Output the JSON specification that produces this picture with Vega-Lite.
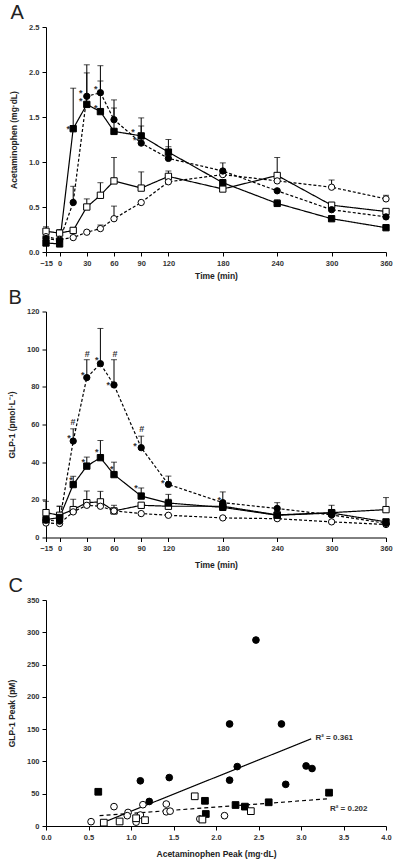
{
  "$schema": "https://vega.github.io/schema/vega-lite/v6.json",
  "background": "white",
  "padding": {"left": 7, "top": 3, "right": 10, "bottom": 3},
  "spacing": 7.5,
  "config": {
    "font": "Liberation Sans",
    "view": {"stroke": null},
    "axis": {
      "grid": false,
      "domainColor": "black",
      "tickColor": "black",
      "tickSize": 4,
      "labelPadding": 3,
      "labelOverlap": false,
      "labelFlush": false,
      "labelFont": "Liberation Sans",
      "labelFontSize": 7.5,
      "labelFontWeight": "bold",
      "labelColor": "#333333",
      "titleFont": "Liberation Sans",
      "titleFontSize": 8.5,
      "titleFontWeight": "bold",
      "titleColor": "#222222"
    },
    "axisY": {"titlePadding": 10},
    "title": {"font": "Liberation Sans", "fontSize": 20, "fontWeight": "normal", "anchor": "start", "color": "#222222"}
  },
  "datasets": {
    "acet": [
      {"t": -15, "g": "Solid Pre", "v": 0.23, "e": 0.28},
      {"t": 0, "g": "Solid Pre", "v": 0.21, "e": 0.25},
      {"t": 15, "g": "Solid Pre", "v": 0.24, "e": 0.27},
      {"t": 30, "g": "Solid Pre", "v": 0.50, "e": 0.59},
      {"t": 45, "g": "Solid Pre", "v": 0.63, "e": 0.77},
      {"t": 60, "g": "Solid Pre", "v": 0.79, "e": 1.05},
      {"t": 90, "g": "Solid Pre", "v": 0.71, "e": 0.89},
      {"t": 120, "g": "Solid Pre", "v": 0.84, "e": 0.90},
      {"t": 180, "g": "Solid Pre", "v": 0.70, "e": null},
      {"t": 240, "g": "Solid Pre", "v": 0.85, "e": 1.05},
      {"t": 300, "g": "Solid Pre", "v": 0.52, "e": null},
      {"t": 360, "g": "Solid Pre", "v": 0.45, "e": null},
      {"t": -15, "g": "Liquid Pre", "v": 0.17, "e": null},
      {"t": 0, "g": "Liquid Pre", "v": 0.14, "e": null},
      {"t": 15, "g": "Liquid Pre", "v": 0.16, "e": null},
      {"t": 30, "g": "Liquid Pre", "v": 0.22, "e": null},
      {"t": 45, "g": "Liquid Pre", "v": 0.26, "e": 0.30},
      {"t": 60, "g": "Liquid Pre", "v": 0.37, "e": 0.51},
      {"t": 90, "g": "Liquid Pre", "v": 0.55, "e": null},
      {"t": 120, "g": "Liquid Pre", "v": 0.78, "e": null},
      {"t": 180, "g": "Liquid Pre", "v": 0.86, "e": null},
      {"t": 240, "g": "Liquid Pre", "v": 0.79, "e": null},
      {"t": 300, "g": "Liquid Pre", "v": 0.72, "e": 0.80},
      {"t": 360, "g": "Liquid Pre", "v": 0.59, "e": 0.63},
      {"t": -15, "g": "Solid Post", "v": 0.10, "e": null},
      {"t": 0, "g": "Solid Post", "v": 0.09, "e": null},
      {"t": 15, "g": "Solid Post", "v": 1.37, "e": 1.82},
      {"t": 30, "g": "Solid Post", "v": 1.64, "e": 1.99},
      {"t": 45, "g": "Solid Post", "v": 1.56, "e": 1.90},
      {"t": 60, "g": "Solid Post", "v": 1.34, "e": 1.60},
      {"t": 90, "g": "Solid Post", "v": 1.29, "e": 1.49},
      {"t": 120, "g": "Solid Post", "v": 1.11, "e": 1.25},
      {"t": 180, "g": "Solid Post", "v": 0.77, "e": null},
      {"t": 240, "g": "Solid Post", "v": 0.54, "e": 0.58},
      {"t": 300, "g": "Solid Post", "v": 0.37, "e": null},
      {"t": 360, "g": "Solid Post", "v": 0.27, "e": null},
      {"t": -15, "g": "Liquid Post", "v": 0.15, "e": null},
      {"t": 0, "g": "Liquid Post", "v": 0.13, "e": null},
      {"t": 15, "g": "Liquid Post", "v": 0.55, "e": 0.73},
      {"t": 30, "g": "Liquid Post", "v": 1.73, "e": 2.08},
      {"t": 45, "g": "Liquid Post", "v": 1.77, "e": 2.07},
      {"t": 60, "g": "Liquid Post", "v": 1.47, "e": 1.69},
      {"t": 90, "g": "Liquid Post", "v": 1.21, "e": 1.40},
      {"t": 120, "g": "Liquid Post", "v": 1.04, "e": 1.17},
      {"t": 180, "g": "Liquid Post", "v": 0.90, "e": 0.99},
      {"t": 240, "g": "Liquid Post", "v": 0.68, "e": null},
      {"t": 300, "g": "Liquid Post", "v": 0.47, "e": null},
      {"t": 360, "g": "Liquid Post", "v": 0.39, "e": null}
    ],
    "acetNotes": [
      {"t": 9.6, "v": 1.39, "label": "*"},
      {"t": 23.3, "v": 1.79, "label": "*"},
      {"t": 23.3, "v": 1.70, "label": "*"},
      {"t": 39.8, "v": 1.83, "label": "*"},
      {"t": 39.8, "v": 1.62, "label": "*"},
      {"t": 81, "v": 1.36, "label": "*"},
      {"t": 83, "v": 1.27, "label": "*"}
    ],
    "glp": [
      {"t": -15, "g": "Solid Pre", "v": 13.2, "e": 19.2},
      {"t": 0, "g": "Solid Pre", "v": 11.8, "e": 16.6},
      {"t": 15, "g": "Solid Pre", "v": 14.8, "e": 20.3},
      {"t": 30, "g": "Solid Pre", "v": 18.5, "e": 24.7},
      {"t": 45, "g": "Solid Pre", "v": 18.9, "e": 24.5},
      {"t": 60, "g": "Solid Pre", "v": 14.1, "e": 17.1},
      {"t": 90, "g": "Solid Pre", "v": 17.1, "e": null},
      {"t": 120, "g": "Solid Pre", "v": 16.6, "e": 20.3},
      {"t": 180, "g": "Solid Pre", "v": 16.6, "e": 24.2},
      {"t": 240, "g": "Solid Pre", "v": 12.0, "e": null},
      {"t": 300, "g": "Solid Pre", "v": 13.2, "e": 17.1},
      {"t": 360, "g": "Solid Pre", "v": 14.8, "e": 21.2},
      {"t": -15, "g": "Liquid Pre", "v": 7.7, "e": null},
      {"t": 0, "g": "Liquid Pre", "v": 7.4, "e": null},
      {"t": 15, "g": "Liquid Pre", "v": 13.6, "e": null},
      {"t": 30, "g": "Liquid Pre", "v": 17.1, "e": null},
      {"t": 45, "g": "Liquid Pre", "v": 16.6, "e": null},
      {"t": 60, "g": "Liquid Pre", "v": 14.1, "e": null},
      {"t": 90, "g": "Liquid Pre", "v": 12.7, "e": null},
      {"t": 120, "g": "Liquid Pre", "v": 11.8, "e": null},
      {"t": 180, "g": "Liquid Pre", "v": 10.4, "e": null},
      {"t": 240, "g": "Liquid Pre", "v": 10.0, "e": null},
      {"t": 300, "g": "Liquid Pre", "v": 8.3, "e": null},
      {"t": 360, "g": "Liquid Pre", "v": 6.9, "e": null},
      {"t": -15, "g": "Solid Post", "v": 9.5, "e": null},
      {"t": 0, "g": "Solid Post", "v": 10.6, "e": 16.6},
      {"t": 15, "g": "Solid Post", "v": 28.1, "e": 32.5},
      {"t": 30, "g": "Solid Post", "v": 37.9, "e": 42.7},
      {"t": 45, "g": "Solid Post", "v": 42.4, "e": 51.5},
      {"t": 60, "g": "Solid Post", "v": 33.4, "e": 40.0},
      {"t": 90, "g": "Solid Post", "v": 22.0, "e": 26.3},
      {"t": 120, "g": "Solid Post", "v": 18.3, "e": 22.9},
      {"t": 180, "g": "Solid Post", "v": 16.0, "e": null},
      {"t": 240, "g": "Solid Post", "v": 11.8, "e": null},
      {"t": 300, "g": "Solid Post", "v": 13.0, "e": null},
      {"t": 360, "g": "Solid Post", "v": 8.3, "e": null},
      {"t": -15, "g": "Liquid Post", "v": 9.2, "e": null},
      {"t": 0, "g": "Liquid Post", "v": 8.7, "e": null},
      {"t": 15, "g": "Liquid Post", "v": 51.2, "e": 57.7},
      {"t": 30, "g": "Liquid Post", "v": 84.9, "e": 94.4},
      {"t": 45, "g": "Liquid Post", "v": 92.3, "e": 111.0},
      {"t": 60, "g": "Liquid Post", "v": 81.0, "e": 94.4},
      {"t": 90, "g": "Liquid Post", "v": 47.7, "e": 53.8},
      {"t": 120, "g": "Liquid Post", "v": 28.2, "e": 32.6},
      {"t": 180, "g": "Liquid Post", "v": 18.5, "e": null},
      {"t": 240, "g": "Liquid Post", "v": 15.4, "e": 18.5},
      {"t": 300, "g": "Liquid Post", "v": 12.0, "e": null},
      {"t": 360, "g": "Liquid Post", "v": 7.5, "e": null}
    ],
    "glpNotes": [
      {"t": 30.5, "v": 98.3, "label": "#"},
      {"t": 25.5, "v": 87.4, "label": "*"},
      {"t": 40.9, "v": 95.1, "label": "*"},
      {"t": 61.1, "v": 98.3, "label": "#"},
      {"t": 53.7, "v": 82.1, "label": "*"},
      {"t": 14.8, "v": 62.3, "label": "#"},
      {"t": 90.5, "v": 58.6, "label": "#"},
      {"t": 10.4, "v": 53.7, "label": "*"},
      {"t": 83.2, "v": 49.8, "label": "*"},
      {"t": 113.7, "v": 29.8, "label": "*"},
      {"t": 12.6, "v": 31.8, "label": "*"},
      {"t": 26.1, "v": 41.3, "label": "*"},
      {"t": 40.9, "v": 46.2, "label": "*"},
      {"t": 57.5, "v": 37.4, "label": "*"},
      {"t": 84.3, "v": 27.2, "label": "*"},
      {"t": 176, "v": 21.2, "label": "*"}
    ],
    "legendItems": [
      {"g": "Solid Pre"},
      {"g": "Liquid Pre"},
      {"g": "Solid Post"},
      {"g": "Liquid Post"}
    ],
    "peaks": [
      {"x": 1.11, "y": 70, "g": "Liquid Post"},
      {"x": 1.45, "y": 75, "g": "Liquid Post"},
      {"x": 1.215, "y": 38, "g": "Liquid Post"},
      {"x": 2.16, "y": 158, "g": "Liquid Post"},
      {"x": 2.77, "y": 158, "g": "Liquid Post"},
      {"x": 2.25, "y": 92, "g": "Liquid Post"},
      {"x": 2.16, "y": 71, "g": "Liquid Post"},
      {"x": 3.06, "y": 93, "g": "Liquid Post"},
      {"x": 3.13, "y": 89, "g": "Liquid Post"},
      {"x": 2.82, "y": 64.5, "g": "Liquid Post"},
      {"x": 2.47, "y": 288, "g": "Liquid Post"},
      {"x": 0.615, "y": 53, "g": "Solid Post"},
      {"x": 1.87, "y": 39, "g": "Solid Post"},
      {"x": 1.88, "y": 18.6, "g": "Solid Post"},
      {"x": 2.23, "y": 32.5, "g": "Solid Post"},
      {"x": 2.34, "y": 30, "g": "Solid Post"},
      {"x": 2.62, "y": 36.7, "g": "Solid Post"},
      {"x": 3.33, "y": 51.6, "g": "Solid Post"},
      {"x": 0.53, "y": 6.7, "g": "Liquid Pre"},
      {"x": 0.80, "y": 30, "g": "Liquid Pre"},
      {"x": 0.965, "y": 21, "g": "Liquid Pre"},
      {"x": 0.956, "y": 16, "g": "Liquid Pre"},
      {"x": 1.06, "y": 6, "g": "Liquid Pre"},
      {"x": 1.11, "y": 17, "g": "Liquid Pre"},
      {"x": 1.14, "y": 33, "g": "Liquid Pre"},
      {"x": 1.415, "y": 34, "g": "Liquid Pre"},
      {"x": 1.415, "y": 22, "g": "Liquid Pre"},
      {"x": 1.46, "y": 23, "g": "Liquid Pre"},
      {"x": 1.81, "y": 11, "g": "Liquid Pre"},
      {"x": 2.10, "y": 16, "g": "Liquid Pre"},
      {"x": 0.68, "y": 5.2, "g": "Solid Pre"},
      {"x": 0.866, "y": 7, "g": "Solid Pre"},
      {"x": 1.06, "y": 12, "g": "Solid Pre"},
      {"x": 1.165, "y": 9, "g": "Solid Pre"},
      {"x": 1.75, "y": 46, "g": "Solid Pre"},
      {"x": 2.41, "y": 23, "g": "Solid Pre"},
      {"x": 1.84, "y": 10, "g": "Solid Pre"}
    ],
    "fits": [
      {"x": 0.72, "y": 8, "g": "Liquid Post"},
      {"x": 3.12, "y": 135, "g": "Liquid Post"},
      {"x": 0.63, "y": 16, "g": "Solid Post"},
      {"x": 3.31, "y": 42, "g": "Solid Post"}
    ],
    "r2": [
      {"x": 3.17, "y": 137, "label": "R² = 0.361"},
      {"x": 3.34, "y": 26, "label": "R² = 0.202"}
    ]
  },
  "vconcat": [
    {
      "width": 340,
      "height": 225,
      "title": {"text": "A", "dx": 1, "offset": 0},
      "data": {"name": "acet"},
      "encoding": {
        "x": {"field": "t", "type": "quantitative", "title": "Time (min)",
          "scale": {"domain": [-15, 360], "nice": false, "zero": false},
          "axis": {"values": [-15, 0, 30, 60, 90, 120, 180, 240, 300, 360], "labelOverlap": false, "labelFlush": false, "labelSeparation": -20, "titlePadding": 5}},
        "y": {"field": "v", "type": "quantitative", "title": "Acetaminophen (mg·dL)",
          "scale": {"domain": [0, 2.5], "nice": false},
          "axis": {"values": [0, 0.5, 1, 1.5, 2, 2.5], "format": ".1f", "labelOverlap": false, "labelFlush": false}}
      },
      "layer": [
        {
          "transform": [{"filter": "datum.e != null"}],
          "mark": {"type": "rule", "color": "black", "strokeWidth": 1},
          "encoding": {"y2": {"field": "e"}}
        },
        {
          "transform": [{"filter": "datum.e != null"}],
          "mark": {"type": "tick", "orient": "horizontal", "color": "black", "size": 6, "thickness": 1},
          "encoding": {"y": {"field": "e", "type": "quantitative"}}
        },
        {
          "mark": {"type": "line", "color": "black", "strokeWidth": 1.2},
          "encoding": {
            "detail": {"field": "g"},
            "strokeDash": {"field": "g", "type": "nominal", "legend": null,
              "scale": {"domain": ["Solid Pre", "Liquid Pre", "Solid Post", "Liquid Post"], "range": [[1, 0], [3, 2], [1, 0], [3, 2]]}}
          }
        },
        {
          "mark": {"type": "point", "filled": true, "stroke": "black", "strokeWidth": 1, "opacity": 1, "size": 40},
          "encoding": {
            "shape": {"field": "g", "type": "nominal", "legend": null,
              "scale": {"domain": ["Solid Pre", "Liquid Pre", "Solid Post", "Liquid Post"], "range": ["square", "circle", "square", "circle"]}},
            "fill": {"field": "g", "type": "nominal", "legend": null,
              "scale": {"domain": ["Solid Pre", "Liquid Pre", "Solid Post", "Liquid Post"], "range": ["white", "white", "black", "black"]}}
          }
        },
        {
          "data": {"name": "acetNotes"},
          "mark": {"type": "text", "fontSize": 9, "fontWeight": "bold", "color": "#333333", "baseline": "middle", "dy": 2},
          "encoding": {"text": {"field": "label"}}
        }
      ]
    },
    {
      "width": 340,
      "height": 226,
      "title": {"text": "B", "dx": 1, "offset": 0},
      "data": {"name": "glp"},
      "encoding": {
        "x": {"field": "t", "type": "quantitative", "title": "Time (min)",
          "scale": {"domain": [-15, 360], "nice": false, "zero": false},
          "axis": {"values": [-15, 0, 30, 60, 90, 120, 180, 240, 300, 360], "labelOverlap": false, "labelFlush": false, "labelSeparation": -20, "titlePadding": 8}},
        "y": {"field": "v", "type": "quantitative", "title": "GLP-1 (pmol·L⁻¹)",
          "scale": {"domain": [0, 120], "nice": false},
          "axis": {"values": [0, 20, 40, 60, 80, 100, 120], "labelOverlap": false, "labelFlush": false}}
      },
      "layer": [
        {
          "transform": [{"filter": "datum.e != null"}],
          "mark": {"type": "rule", "color": "black", "strokeWidth": 1},
          "encoding": {"y2": {"field": "e"}}
        },
        {
          "transform": [{"filter": "datum.e != null"}],
          "mark": {"type": "tick", "orient": "horizontal", "color": "black", "size": 6, "thickness": 1},
          "encoding": {"y": {"field": "e", "type": "quantitative"}}
        },
        {
          "mark": {"type": "line", "color": "black", "strokeWidth": 1.2},
          "encoding": {
            "detail": {"field": "g"},
            "strokeDash": {"field": "g", "type": "nominal", "legend": null,
              "scale": {"domain": ["Solid Pre", "Liquid Pre", "Solid Post", "Liquid Post"], "range": [[1, 0], [3, 2], [1, 0], [3, 2]]}}
          }
        },
        {
          "mark": {"type": "point", "filled": true, "stroke": "black", "strokeWidth": 1, "opacity": 1, "size": 40},
          "encoding": {
            "shape": {"field": "g", "type": "nominal", "legend": null,
              "scale": {"domain": ["Solid Pre", "Liquid Pre", "Solid Post", "Liquid Post"], "range": ["square", "circle", "square", "circle"]}},
            "fill": {"field": "g", "type": "nominal", "legend": null,
              "scale": {"domain": ["Solid Pre", "Liquid Pre", "Solid Post", "Liquid Post"], "range": ["white", "white", "black", "black"]}}
          }
        },
        {
          "data": {"name": "glpNotes"},
          "mark": {"type": "text", "fontSize": 9, "fontWeight": "bold", "color": "#333333", "baseline": "middle", "dy": 2},
          "encoding": {"text": {"field": "label"}}
        },
        {"data": {"name": "legendItems"}, "transform": [{"filter": {"field": "g", "equal": "Solid Pre"}}],
         "mark": {"type": "rule", "color": "black", "strokeWidth": 1.2},
         "encoding": {"x": {"datum": 238.5}, "x2": {"datum": 253.5}, "y": {"datum": 89.5}}},
        {"data": {"name": "legendItems"}, "transform": [{"filter": {"field": "g", "equal": "Liquid Pre"}}],
         "mark": {"type": "rule", "color": "black", "strokeWidth": 1.2, "strokeDash": [3, 2]},
         "encoding": {"x": {"datum": 238.5}, "x2": {"datum": 253.5}, "y": {"datum": 83.3}}},
        {"data": {"name": "legendItems"}, "transform": [{"filter": {"field": "g", "equal": "Solid Post"}}],
         "mark": {"type": "rule", "color": "black", "strokeWidth": 1.2},
         "encoding": {"x": {"datum": 238.5}, "x2": {"datum": 253.5}, "y": {"datum": 77.1}}},
        {"data": {"name": "legendItems"}, "transform": [{"filter": {"field": "g", "equal": "Liquid Post"}}],
         "mark": {"type": "rule", "color": "black", "strokeWidth": 1.2, "strokeDash": [3, 2]},
         "encoding": {"x": {"datum": 238.5}, "x2": {"datum": 253.5}, "y": {"datum": 71.3}}},
        {"data": {"name": "legendItems"}, "transform": [{"filter": {"field": "g", "equal": "Solid Pre"}}],
         "mark": {"type": "point", "filled": true, "stroke": "black", "strokeWidth": 1, "opacity": 1, "size": 40},
         "encoding": {"x": {"datum": 246}, "y": {"datum": 89.5}, "shape": {"field": "g", "type": "nominal", "legend": null}, "fill": {"field": "g", "type": "nominal", "legend": null}}},
        {"data": {"name": "legendItems"}, "transform": [{"filter": {"field": "g", "equal": "Liquid Pre"}}],
         "mark": {"type": "point", "filled": true, "stroke": "black", "strokeWidth": 1, "opacity": 1, "size": 40},
         "encoding": {"x": {"datum": 246}, "y": {"datum": 83.3}, "shape": {"field": "g", "type": "nominal", "legend": null}, "fill": {"field": "g", "type": "nominal", "legend": null}}},
        {"data": {"name": "legendItems"}, "transform": [{"filter": {"field": "g", "equal": "Solid Post"}}],
         "mark": {"type": "point", "filled": true, "stroke": "black", "strokeWidth": 1, "opacity": 1, "size": 40},
         "encoding": {"x": {"datum": 246}, "y": {"datum": 77.1}, "shape": {"field": "g", "type": "nominal", "legend": null}, "fill": {"field": "g", "type": "nominal", "legend": null}}},
        {"data": {"name": "legendItems"}, "transform": [{"filter": {"field": "g", "equal": "Liquid Post"}}],
         "mark": {"type": "point", "filled": true, "stroke": "black", "strokeWidth": 1, "opacity": 1, "size": 40},
         "encoding": {"x": {"datum": 246}, "y": {"datum": 71.3}, "shape": {"field": "g", "type": "nominal", "legend": null}, "fill": {"field": "g", "type": "nominal", "legend": null}}},
        {"data": {"name": "legendItems"}, "transform": [{"filter": {"field": "g", "equal": "Solid Pre"}}],
         "mark": {"type": "text", "align": "left", "baseline": "middle", "fontSize": 7.5, "fontWeight": "bold", "color": "#444444"},
         "encoding": {"x": {"datum": 261.5}, "y": {"datum": 89.5}, "text": {"field": "g"}}},
        {"data": {"name": "legendItems"}, "transform": [{"filter": {"field": "g", "equal": "Liquid Pre"}}],
         "mark": {"type": "text", "align": "left", "baseline": "middle", "fontSize": 7.5, "fontWeight": "bold", "color": "#444444"},
         "encoding": {"x": {"datum": 261.5}, "y": {"datum": 83.3}, "text": {"field": "g"}}},
        {"data": {"name": "legendItems"}, "transform": [{"filter": {"field": "g", "equal": "Solid Post"}}],
         "mark": {"type": "text", "align": "left", "baseline": "middle", "fontSize": 7.5, "fontWeight": "bold", "color": "#444444"},
         "encoding": {"x": {"datum": 261.5}, "y": {"datum": 77.1}, "text": {"field": "g"}}},
        {"data": {"name": "legendItems"}, "transform": [{"filter": {"field": "g", "equal": "Liquid Post"}}],
         "mark": {"type": "text", "align": "left", "baseline": "middle", "fontSize": 7.5, "fontWeight": "bold", "color": "#444444"},
         "encoding": {"x": {"datum": 261.5}, "y": {"datum": 71.3}, "text": {"field": "g"}}}
      ]
    },
    {
      "width": 340,
      "height": 226,
      "title": {"text": "C", "dx": 1, "offset": 0},
      "encoding": {
        "x": {"field": "x", "type": "quantitative", "title": "Acetaminophen Peak (mg·dL)",
          "scale": {"domain": [0, 4], "nice": false},
          "axis": {"values": [0, 0.5, 1, 1.5, 2, 2.5, 3, 3.5, 4], "format": ".1f", "labelOverlap": false, "labelFlush": false, "titlePadding": 9}},
        "y": {"field": "y", "type": "quantitative", "title": "GLP-1 Peak (pM)",
          "scale": {"domain": [0, 350], "nice": false},
          "axis": {"values": [0, 50, 100, 150, 200, 250, 300, 350], "labelOverlap": false, "labelFlush": false}}
      },
      "layer": [
        {
          "data": {"name": "fits"},
          "mark": {"type": "line", "color": "black", "strokeWidth": 1.2},
          "encoding": {
            "detail": {"field": "g"},
            "strokeDash": {"field": "g", "type": "nominal", "legend": null,
              "scale": {"domain": ["Solid Post", "Liquid Post"], "range": [[4, 3], [1, 0]]}}
          }
        },
        {
          "data": {"name": "peaks"},
          "mark": {"type": "point", "filled": true, "stroke": "black", "strokeWidth": 1, "opacity": 1, "size": 45},
          "encoding": {
            "shape": {"field": "g", "type": "nominal", "legend": null,
              "scale": {"domain": ["Solid Pre", "Liquid Pre", "Solid Post", "Liquid Post"], "range": ["square", "circle", "square", "circle"]}},
            "fill": {"field": "g", "type": "nominal", "legend": null,
              "scale": {"domain": ["Solid Pre", "Liquid Pre", "Solid Post", "Liquid Post"], "range": ["white", "white", "black", "black"]}}
          }
        },
        {
          "data": {"name": "r2"},
          "mark": {"type": "text", "fontSize": 8, "fontWeight": "bold", "color": "#333333", "align": "left", "baseline": "middle"},
          "encoding": {"text": {"field": "label"}}
        }
      ]
    }
  ],
  "resolve": {
    "scale": {"strokeDash": "independent"},
    "legend": {"strokeDash": "independent"}
  }
}
